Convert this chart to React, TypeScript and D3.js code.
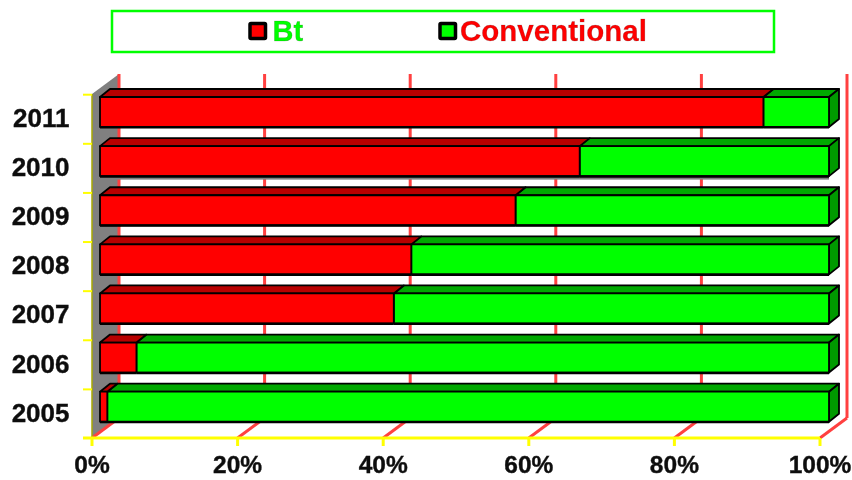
import React from "react";
import * as d3 from "d3";

const years = ["2011", "2010", "2009", "2008", "2007", "2006", "2005"];
const btShare = [91, 65.8, 57, 42.7, 40.3, 5, 1];
const conventionalShare = [9, 34.2, 43, 57.3, 59.7, 95, 99];
const xTicks = [0, 20, 40, 60, 80, 100];

const RED = "#ff0000";
const GREEN = "#00ff00";
const DARK_RED = "#b80000";
const DARK_GREEN = "#00a800";
const SIDE_GREEN = "#009a00";
const YELLOW = "#ffff00";
const GRID = "#ff4040";
const GRAY = "#808080";
const FONT = "'Liberation Sans', Arial, sans-serif";

const x = d3.scaleLinear().domain([0, 100]).range([100, 829]);
const floorX = d3.scaleLinear().domain([0, 100]).range([92, 820]);
const y = d3.scaleBand<string>().domain(years).range([89.5, 433.3]).paddingInner(0).paddingOuter(0);
const WALL_DX = 27;
const WALL_DY = 20;
const DX = 10;
const DY = 8;
const BAR_TOP = 7.5;
const BAR_H = 30;

function Bar({ x0, x1, top, fill, topFill, showSide }: { x0: number; x1: number; top: number; fill: string; topFill: string; showSide: boolean }) {
  const pts = (p: number[][]) => p.map((q) => q.join(",")).join(" ");
  return (
    <g stroke="#000" strokeWidth={1.8} strokeLinejoin="round">
      <polygon fill={topFill} points={pts([[x0, top], [x0 + DX, top - DY], [x1 + DX, top - DY], [x1, top]])} />
      {showSide && <polygon fill={SIDE_GREEN} points={pts([[x1, top], [x1 + DX, top - DY], [x1 + DX, top + BAR_H - DY], [x1, top + BAR_H]])} />}
      <rect x={x0} y={top} width={x1 - x0} height={BAR_H} fill={fill} />
      <line x1={x0} x2={x1} y1={top + BAR_H + 0.4} y2={top + BAR_H + 0.4} strokeWidth={2.4} />
    </g>
  );
}

export default function App() {
  const floorY = 438;
  const topY = 94;
  return (
    <svg width={852} height={480} viewBox="0 0 852 480" style={{ position: "absolute", left: 0, top: 0, background: "#fff" }} fontFamily={FONT}>
      <defs>
        <filter id="soft" x="-2%" y="-2%" width="104%" height="104%">
          <feGaussianBlur stdDeviation="0.4" />
        </filter>
      </defs>
      <g filter="url(#soft)">
        {/* legend */}
        <rect x={112} y={11} width={662} height={41} fill="#fff" stroke={GREEN} strokeWidth={2.5} />
        <rect x={250} y={23.5} width={15.5} height={15} fill={RED} stroke="#000" strokeWidth={3.5} rx={1} />
        <text x={272.5} y={41} fontSize={29} fontWeight={700} fill={GREEN} stroke="#3a3a3a" strokeOpacity={0.35} strokeWidth={0.5}>Bt</text>
        <rect x={440} y={23.5} width={15.5} height={15} fill={GREEN} stroke="#000" strokeWidth={3.5} rx={1} />
        <text x={460} y={41} fontSize={29.5} fontWeight={700} fill={RED} stroke="#3a3a3a" strokeOpacity={0.35} strokeWidth={0.5}>Conventional</text>

        {/* back wall and grid */}
        <polygon points={[[floorX(0), topY], [floorX(0) + WALL_DX, topY - WALL_DY], [floorX(0) + WALL_DX, floorY - WALL_DY], [floorX(0), floorY]].map((p) => p.join(",")).join(" ")} fill={GRAY} />
        {xTicks.map((t) => (
          <g key={t} stroke={GRID} strokeWidth={3}>
            <line x1={floorX(t) + WALL_DX} x2={floorX(t) + WALL_DX} y1={topY - WALL_DY} y2={floorY - WALL_DY} />
            <line x1={floorX(t)} y1={floorY} x2={floorX(t) + WALL_DX} y2={floorY - WALL_DY} />
          </g>
        ))}

        {/* axes */}
        <line x1={floorX(0)} x2={floorX(0)} y1={topY} y2={floorY} stroke="#a8a800" strokeWidth={1.5} />
        <line x1={83} x2={floorX(100)} y1={floorY} y2={floorY} stroke={YELLOW} strokeWidth={3} />
        {xTicks.map((t) => (
          <g key={t}>
            <line x1={floorX(t)} x2={floorX(t)} y1={floorY} y2={446} stroke={YELLOW} strokeWidth={3} />
            <text x={floorX(t)} y={473} textAnchor="middle" fontSize={24.5} fontWeight={700} fill="#111" stroke="#111" strokeWidth={0.4}>{t}%</text>
          </g>
        ))}

        {/* bars */}
        {years.map((year, i) => {
          const band = y(year)!;
          const top = band + BAR_TOP;
          const split = x(btShare[i]);
          const end = x(btShare[i] + conventionalShare[i]);
          return (
            <g key={year}>
              <line x1={83} x2={92} y1={band + 5.2} y2={band + 5.2} stroke={YELLOW} strokeWidth={2} />
              {year === "2010" && <rect x={x(0)} y={top + BAR_H} width={end - x(0)} height={3.5} fill={GRAY} />}
              <Bar x0={split} x1={end} top={top} fill={GREEN} topFill={DARK_GREEN} showSide />
              <Bar x0={x(0)} x1={split} top={top} fill={RED} topFill={DARK_RED} showSide={false} />
              <text x={69.5} y={top + BAR_H} textAnchor="end" fontSize={26} fontWeight={700} fill="#111" stroke="#111" strokeWidth={0.4}>{year}</text>
            </g>
          );
        })}
      </g>
    </svg>
  );
}
